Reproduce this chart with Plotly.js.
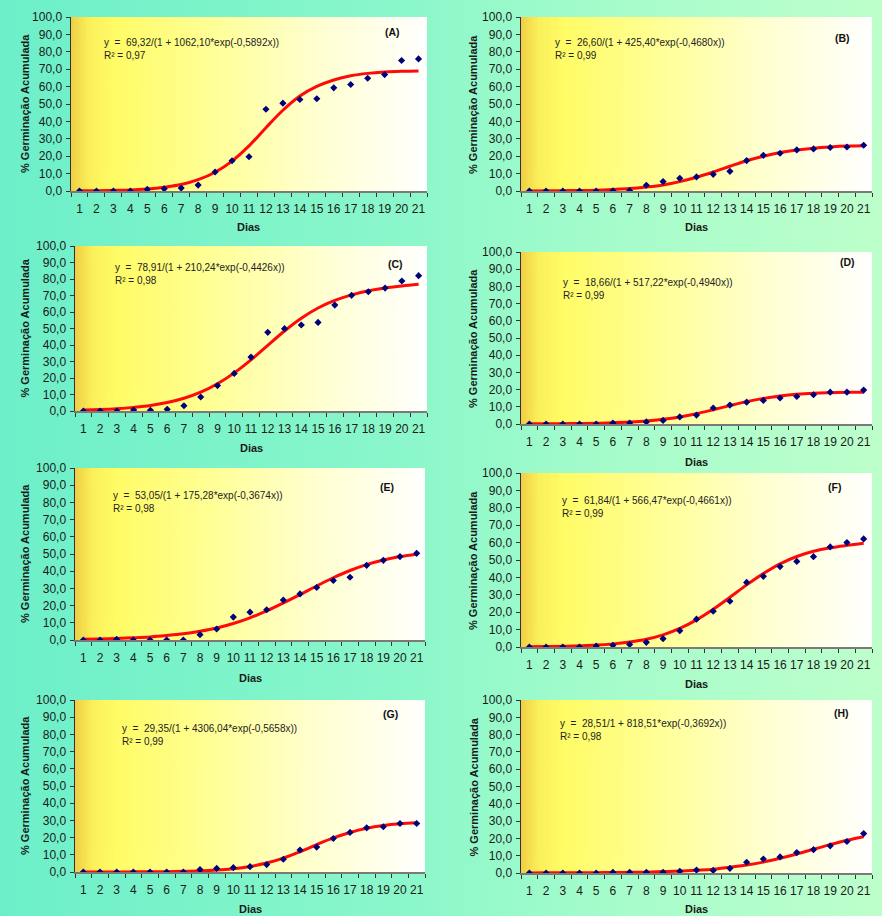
<!DOCTYPE html>
<html>
<head>
<meta charset="utf-8">
<script src="https://cdn.plot.ly/plotly-3.0.1.min.js"></script>
<style>
  html, body { margin: 0; padding: 0; }
  body { width: 882px; height: 916px; overflow: hidden;
         background: linear-gradient(to right, #6CEFC9 0%, #8AF7CA 45%, #A6FCCB 70%, #BDFFCB 100%); }
  #chart { width: 882px; height: 916px; }
</style>
</head>
<body>
<div id="chart"></div>
<script>
// ---------------- DATA ----------------
const days = ['1','2','3','4','5','6','7','8','9','10','11','12','13','14','15','16','17','18','19','20','21'];

const obsA = [0,0,0,0,0.9,1.3,1.7,3.4,10.9,17.4,19.7,47.0,50.5,52.6,53.0,59.3,61.2,64.8,66.9,75.0,75.9];
const fitA = [0.1,0.2,0.4,0.6,1.2,2.2,3.7,6.5,10.8,17.2,25.9,36.4,46.4,54.6,60.1,63.8,66.2,67.6,68.4,68.8,69.0];

const obsB = [0,0,0,0,0,0.1,0.2,3.3,5.4,7.3,8.1,9.6,11.3,17.5,20.5,21.7,23.6,24.2,25.0,25.3,26.3];
const fitB = [0.0,0.1,0.2,0.3,0.5,0.9,1.4,2.3,3.5,5.4,7.9,10.9,14.2,17.4,20.0,22.1,23.6,24.6,25.3,25.8,26.0];

const obsC = [0,0,0,0.6,0.4,1.0,3.2,8.5,15.4,22.8,32.7,47.7,49.9,52.1,53.7,64.2,70.1,72.3,74.5,78.8,82.0];
const fitC = [0.6,0.9,1.4,2.2,3.3,5.1,7.7,11.4,16.5,23.1,31.0,39.8,48.5,56.2,62.4,67.0,70.4,72.9,74.6,75.8,76.8];

const obsD = [0,0,0,0,0,0.6,0.6,1.2,2.1,4.1,5.2,9.3,11.0,12.7,13.7,15.1,16.0,17.0,18.5,18.5,19.7];
const fitD = [0.1,0.1,0.2,0.3,0.4,0.7,1.1,1.7,2.7,4.1,6.0,8.3,10.7,13.0,14.9,16.3,17.3,17.9,18.2,18.4,18.5];

const obsE = [0,0,0.4,0,0,0,0,3.1,6.4,13.3,16.2,17.6,23.2,26.8,30.5,34.6,36.5,43.4,46.3,48.5,50.4];
const fitE = [0.4,0.6,0.9,1.3,1.8,2.6,3.6,5.1,7.0,9.6,12.9,16.9,21.5,26.4,31.4,36.2,40.4,43.8,46.5,48.5,49.9];

const obsF = [0,0,0,0,0.6,1.0,1.5,2.7,4.8,9.4,16.0,20.6,26.3,37.1,40.6,46.2,49.2,51.9,57.5,60.0,62.1];
const fitF = [0.2,0.3,0.4,0.7,1.1,1.8,2.9,4.5,7.0,10.7,15.6,21.7,28.6,35.7,42.2,47.8,52.0,55.0,57.0,58.4,59.6];

const obsG = [0,0,0,0,0,0,0,1.4,2.1,2.5,3.1,4.3,7.4,12.8,14.5,19.5,23.0,25.7,26.3,28.2,28.2];
const fitG = [0.0,0.0,0.0,0.1,0.1,0.2,0.4,0.6,1.1,1.9,3.2,5.2,8.1,11.8,15.9,19.8,23.0,25.4,27.0,28.0,28.6];

const obsH = [0,0,0,0,0,0.4,0.4,0.4,0.4,1.0,1.7,1.5,2.7,6.2,8.1,9.3,11.8,13.5,15.7,18.2,22.8];
const fitH = [0.0,0.1,0.1,0.1,0.2,0.3,0.4,0.5,0.8,1.1,1.6,2.2,3.3,4.6,6.3,8.5,11.0,13.7,16.4,18.9,21.0];

const panelLabels = ['(A)','(B)','(C)','(D)','(E)','(F)','(G)','(H)'];
const equations = [
  'y  =  69,32/(1 + 1062,10*exp(-0,5892x))',
  'y  =  26,60/(1 + 425,40*exp(-0,4680x))',
  'y  =  78,91/(1 + 210,24*exp(-0,4426x))',
  'y  =  18,66/(1 + 517,22*exp(-0,4940x))',
  'y  =  53,05/(1 + 175,28*exp(-0,3674x))',
  'y  =  61,84/(1 + 566,47*exp(-0,4661x))',
  'y  =  29,35/(1 + 4306,04*exp(-0,5658x))',
  'y  =  28,51/1 + 818,51*exp(-0,3692x))'
];
const r2Texts = ['R² = 0,97','R² = 0,99','R² = 0,98','R² = 0,99','R² = 0,98','R² = 0,99','R² = 0,99','R² = 0,98'];
const yTickVals = [0,10,20,30,40,50,60,70,80,90,100];
const yTickText = ['0,0','10,0','20,0','30,0','40,0','50,0','60,0','70,0','80,0','90,0','100,0'];
const yTitle = '% Germinação Acumulada';
const xTitle = 'Dias';

const observed = [obsA,obsB,obsC,obsD,obsE,obsF,obsG,obsH];
const fitted = [fitA,fitB,fitC,fitD,fitE,fitF,fitG,fitH];

// ---------------- LAYOUT (pixel geometry) ----------------
const W = 882, H = 916;
// plot areas: [left, right, top, bottom]
const boxes = [
  [71,427,17,191],[521,872,17,191],
  [75,427,246,411],[521,872,252,424],
  [75,425,468,640],[521,872,473,647],
  [75,425,700,872],[521,872,700,873]
];
// equation boxes: [left,right,top,bottom, textX]
const eqBoxes = [
  [87,290,32,65,102],[529,731,33,66,553],
  [90,295,256,292,113],[535,736,271,307,561],
  [87,290,485,518,111],[538,734,489,524,560],
  [103,328,716,754,120],[541,724,712,747,558]
];
const labelPos = [[392,32],[842,38],[395,264],[847,262],[387,487],[834,487],[390,714],[841,713]];
const diasY = [227,227,448,462,678,684,909,909];
const yTitleX = [25,473,25,473,25,473,25,473];

const px = x => x / W;
const py = y => 1 - y / H;

// gradient image for plot area
function gradientURL() {
  const c = document.createElement('canvas');
  c.width = 600; c.height = 4;
  const g = c.getContext('2d');
  const gr = g.createLinearGradient(0,0,600,0);
  gr.addColorStop(0.00, '#EFCF45');
  gr.addColorStop(0.05, '#FBF05A');
  gr.addColorStop(0.12, '#FFFC66');
  gr.addColorStop(0.38, '#FFFF94');
  gr.addColorStop(0.68, '#FFFFCE');
  gr.addColorStop(1.00, '#FFFFFF');
  g.fillStyle = gr; g.fillRect(0,0,600,4);
  return c.toDataURL('image/png');
}
const bgURL = gradientURL();

const layout = {
  width: W, height: H,
  margin: {l:0, r:0, t:0, b:0},
  paper_bgcolor: 'rgba(0,0,0,0)',
  plot_bgcolor: 'rgba(0,0,0,0)',
  showlegend: false,
  font: {family: '"Liberation Sans", Arial, sans-serif', color: '#1a1a1a'},
  separators: ',.',
  annotations: [], shapes: [], images: []
};
const data = [];

for (let i = 0; i < 8; i++) {
  const n = i + 1;
  const xa = n === 1 ? 'xaxis' : 'xaxis' + n;
  const ya = n === 1 ? 'yaxis' : 'yaxis' + n;
  const xr = n === 1 ? 'x' : 'x' + n;
  const yr = n === 1 ? 'y' : 'y' + n;
  const b = boxes[i];
  layout[xa] = {
    domain: [px(b[0]), px(b[1])],
    anchor: yr, type: 'category', categoryorder: 'array', categoryarray: days,
    range: [-0.5, 20.5], tickson: 'boundaries', tickangle: 0,
    ticks: 'outside', ticklen: 4, tickwidth: 1, tickcolor: '#333',
    showline: true, linecolor: '#7a7a7a', linewidth: 2,
    showgrid: false, zeroline: false, fixedrange: true,
    tickfont: {size: 12, color: '#1a1a1a'}, ticklabelstandoff: 6
  };
  layout[ya] = {
    domain: [py(b[3]), py(b[2])],
    anchor: xr, range: [0, 100],
    tickvals: yTickVals, ticktext: yTickText,
    ticks: 'outside', ticklen: 4, tickwidth: 1, tickcolor: '#333',
    showline: true, linecolor: '#333', linewidth: 1.5,
    showgrid: false, zeroline: false, fixedrange: true,
    tickfont: {size: 12, color: '#1a1a1a'}, ticklabelstandoff: 1
  };
  layout.images.push({
    source: bgURL, xref: xr + ' domain', yref: yr + ' domain',
    x: 0, y: 1, sizex: 1, sizey: 1, sizing: 'stretch',
    xanchor: 'left', yanchor: 'top', layer: 'below'
  });
  data.push({
    type: 'scatter', mode: 'lines', x: days, y: fitted[i], xaxis: xr, yaxis: yr,
    line: {color: '#FF0A0A', width: 3, shape: 'spline', smoothing: 1},
    hoverinfo: 'skip'
  });
  data.push({
    type: 'scatter', mode: 'markers', x: days, y: observed[i], xaxis: xr, yaxis: yr,
    marker: {symbol: 'diamond', size: 5.5, color: '#00007A'}
  });
  const e = eqBoxes[i];
  layout.shapes.push({
    type: 'rect', xref: 'paper', yref: 'paper',
    x0: px(e[0]), x1: px(e[1]), y0: py(e[3]), y1: py(e[2]),
    fillcolor: 'rgba(255,255,255,0.5)', line: {width: 0}, layer: 'below'
  });
  layout.annotations.push({
    xref: 'paper', yref: 'paper', x: px(e[4]), y: py((e[2] + e[3]) / 2),
    xanchor: 'left', yanchor: 'middle', align: 'left', showarrow: false,
    text: equations[i] + '<br>' + r2Texts[i],
    font: {size: 10, color: '#222'}
  });
  layout.annotations.push({
    xref: 'paper', yref: 'paper', x: px(labelPos[i][0]), y: py(labelPos[i][1]),
    xanchor: 'center', yanchor: 'middle', showarrow: false,
    text: '<b>' + panelLabels[i] + '</b>', font: {size: 10.5, color: '#111'}
  });
  layout.annotations.push({
    xref: 'paper', yref: 'paper', x: px((b[0] + b[1]) / 2), y: py(diasY[i]),
    xanchor: 'center', yanchor: 'middle', showarrow: false,
    text: '<b>' + xTitle + '</b>', font: {size: 11, color: '#1a1a1a'}
  });
  layout.annotations.push({
    xref: 'paper', yref: 'paper', x: px(yTitleX[i]), y: py((b[2] + b[3]) / 2),
    xanchor: 'center', yanchor: 'middle', showarrow: false, textangle: -90,
    text: '<b>' + yTitle + '</b>', font: {size: 11, color: '#1a1a1a'}
  });
}

Plotly.newPlot('chart', data, layout, {displayModeBar: false, staticPlot: true});
</script>
</body>
</html>
